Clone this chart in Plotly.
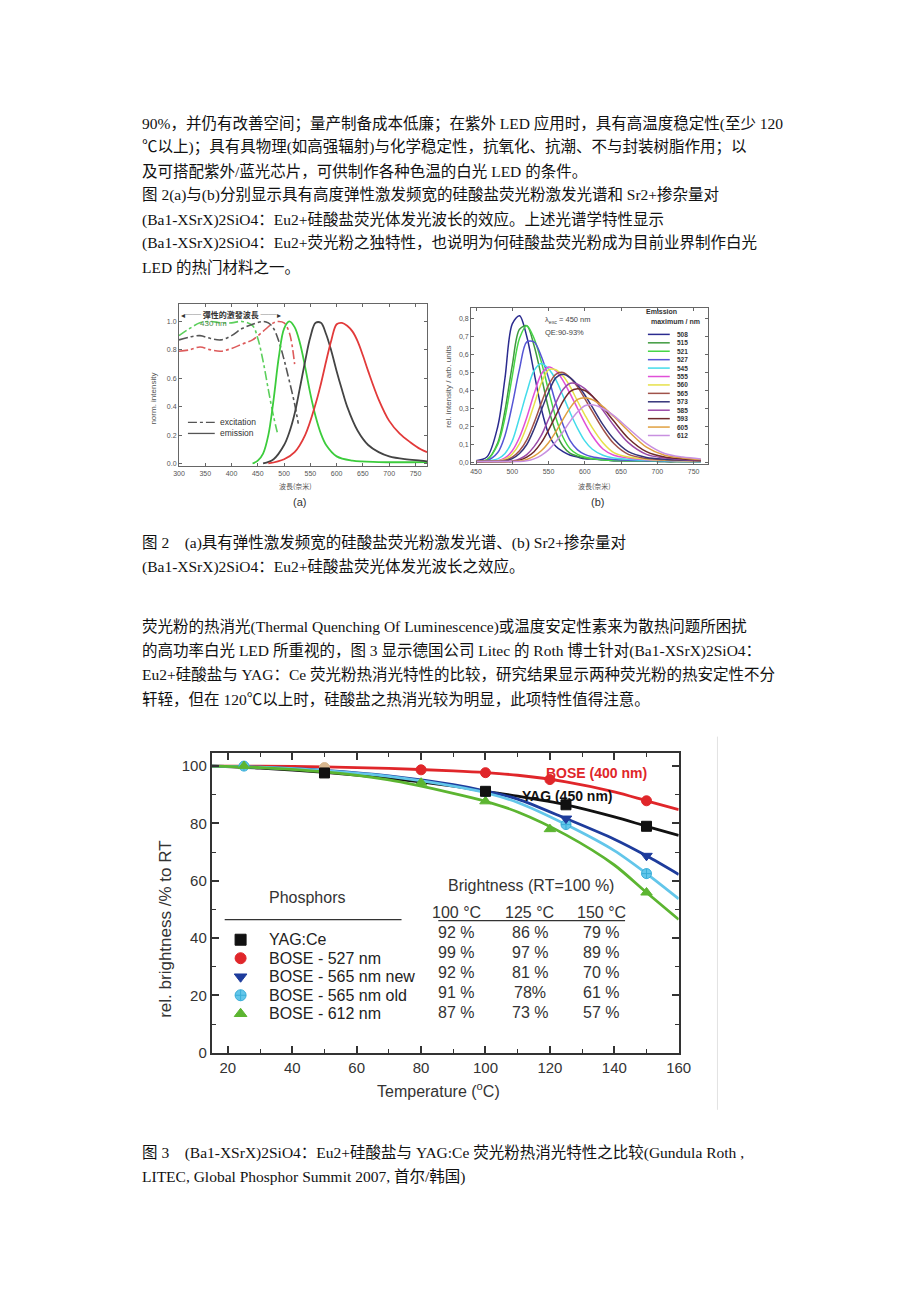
import plotly.graph_objects as go

# the page has an 8px body margin, so the figure is drawn 16px smaller;
# every position below is given in page pixels and mapped through px()/py()
OFF = 8
W_FIG, H_FIG = 904, 1286
KX, X0 = 0.0148, 140   # small stretch measured against the reference
KY, Y0 = 0.0068, 124
BODY_FONT = "Liberation Serif, Noto Sans CJK SC"
CJK_FONT = "Noto Sans CJK SC"
SANS = "Liberation Sans, Arial"

# ---------------- body text ----------------
para_top = [
    "90%，并仍有改善空间；量产制备成本低廉；在紫外 LED 应用时，具有高温度稳定性(至少 120",
    "℃以上)；具有具物理(如高强辐射)与化学稳定性，抗氧化、抗潮、不与封装树脂作用；以",
    "及可搭配紫外/蓝光芯片，可供制作各种色温的白光 LED 的条件。",
    "图 2(a)与(b)分别显示具有高度弹性激发频宽的硅酸盐荧光粉激发光谱和 Sr2+掺杂量对",
    "(Ba1-XSrX)2SiO4：Eu2+硅酸盐荧光体发光波长的效应。上述光谱学特性显示",
    "(Ba1-XSrX)2SiO4：Eu2+荧光粉之独特性，也说明为何硅酸盐荧光粉成为目前业界制作白光",
    "LED 的热门材料之一。",
]
caption_2 = [
    "图 2　(a)具有弹性激发频宽的硅酸盐荧光粉激发光谱、(b) Sr2+掺杂量对",
    "(Ba1-XSrX)2SiO4：Eu2+硅酸盐荧光体发光波长之效应。",
]
para_mid = [
    "荧光粉的热消光(Thermal Quenching Of Luminescence)或温度安定性素来为散热问题所困扰",
    "的高功率白光 LED 所重视的，图 3 显示德国公司 Litec 的 Roth 博士针对(Ba1-XSrX)2SiO4：",
    "Eu2+硅酸盐与 YAG：Ce 荧光粉热消光特性的比较，研究结果显示两种荧光粉的热安定性不分",
    "轩轾，但在 120℃以上时，硅酸盐之热消光较为明显，此项特性值得注意。",
]
caption_3 = [
    "图 3　(Ba1-XSrX)2SiO4：Eu2+硅酸盐与 YAG:Ce 荧光粉热消光特性之比较(Gundula Roth ,",
    "LITEC, Global Phosphor Summit 2007, 首尔/韩国)",
]

# ---------------- figure 2(a): excitation / emission ----------------
exc_green_nm = [300, 320, 340, 360, 380, 400, 420, 440, 450, 460, 470, 480, 487]
exc_green = [0.90, 0.95, 0.99, 1.0, 0.99, 0.99, 1.0, 0.97, 0.88, 0.72, 0.52, 0.33, 0.22]
exc_gray_nm = [300, 320, 340, 360, 380, 400, 420, 440, 460, 470, 480, 490, 500, 510, 520, 527]
exc_gray = [0.87, 0.89, 0.90, 0.88, 0.87, 0.90, 0.95, 0.98, 1.0, 0.99, 0.95, 0.86, 0.73, 0.58, 0.42, 0.28]
exc_red_nm = [300, 320, 340, 360, 380, 400, 420, 440, 460, 480, 490, 500, 510, 520]
exc_red = [0.79, 0.80, 0.82, 0.80, 0.79, 0.81, 0.84, 0.87, 0.93, 0.99, 1.0, 0.99, 0.92, 0.70]

em_green_nm = [440, 450, 460, 470, 480, 490, 500, 510, 520, 530, 540, 550, 560, 570, 580, 600, 630, 680, 772]
em_green = [0.0, 0.02, 0.07, 0.20, 0.45, 0.75, 0.95, 1.0, 0.96, 0.85, 0.68, 0.49, 0.33, 0.21, 0.13, 0.05, 0.02, 0.01, 0.01]
em_gray_nm = [460, 480, 500, 510, 520, 530, 540, 550, 560, 570, 580, 590, 600, 610, 620, 640, 660, 680, 700, 730, 760, 772]
em_gray = [0.0, 0.03, 0.13, 0.22, 0.35, 0.53, 0.72, 0.89, 0.99, 0.99, 0.91, 0.79, 0.65, 0.52, 0.40, 0.23, 0.13, 0.08, 0.05, 0.03, 0.02, 0.015]
em_red_nm = [470, 500, 520, 540, 560, 570, 580, 590, 600, 610, 620, 630, 640, 650, 660, 680, 700, 720, 740, 760, 772]
em_red = [0.0, 0.03, 0.08, 0.20, 0.42, 0.56, 0.72, 0.87, 0.98, 0.99, 0.97, 0.93, 0.86, 0.76, 0.65, 0.45, 0.30, 0.21, 0.15, 0.10, 0.08]

a_xticks = [300, 350, 400, 450, 500, 550, 600, 650, 700, 750]
a_yticks = [0.0, 0.2, 0.4, 0.6, 0.8, 1.0]
a_ytext = ["0.0", "0.2", "0.4", "0.6", "0.8", "1.0"]

# ---------------- figure 2(b): emission vs Sr content ----------------
b_nm = [450, 465, 480, 490, 500, 510, 520, 530, 540, 550, 560, 570, 580, 590, 600, 610, 625, 640, 660, 685, 710, 735, 760]
em508 = [0.01, 0.03, 0.20, 0.47, 0.77, 0.815, 0.70, 0.50, 0.30, 0.16, 0.09, 0.06, 0.04, 0.03, 0.02, 0.02, 0.015, 0.01, 0.01, 0.01, 0.005, 0.005, 0.005]
em515 = [0.01, 0.015, 0.11, 0.29, 0.54, 0.74, 0.76, 0.65, 0.48, 0.30, 0.17, 0.09, 0.05, 0.035, 0.025, 0.02, 0.015, 0.01, 0.01, 0.01, 0.005, 0.005, 0.005]
em521 = [0.005, 0.015, 0.10, 0.25, 0.48, 0.69, 0.76, 0.69, 0.56, 0.40, 0.25, 0.14, 0.075, 0.045, 0.03, 0.022, 0.015, 0.012, 0.01, 0.01, 0.008, 0.005, 0.005]
em527 = [0.005, 0.01, 0.055, 0.15, 0.32, 0.52, 0.67, 0.67, 0.59, 0.47, 0.33, 0.21, 0.12, 0.07, 0.045, 0.032, 0.022, 0.016, 0.012, 0.01, 0.008, 0.006, 0.005]
em545 = [0.005, 0.008, 0.02, 0.05, 0.12, 0.25, 0.39, 0.51, 0.55, 0.52, 0.46, 0.37, 0.275, 0.19, 0.12, 0.075, 0.04, 0.025, 0.018, 0.012, 0.01, 0.008, 0.006]
em555 = [0.005, 0.005, 0.01, 0.025, 0.065, 0.14, 0.25, 0.38, 0.49, 0.53, 0.51, 0.455, 0.38, 0.30, 0.22, 0.15, 0.075, 0.04, 0.025, 0.015, 0.012, 0.01, 0.008]
em560 = [0.005, 0.005, 0.008, 0.018, 0.047, 0.105, 0.20, 0.32, 0.44, 0.515, 0.515, 0.48, 0.42, 0.34, 0.265, 0.195, 0.11, 0.055, 0.03, 0.018, 0.013, 0.01, 0.008]
em565 = [0.005, 0.005, 0.006, 0.012, 0.03, 0.065, 0.125, 0.22, 0.33, 0.43, 0.49, 0.50, 0.47, 0.42, 0.355, 0.285, 0.185, 0.105, 0.045, 0.022, 0.015, 0.012, 0.01]
em573 = [0.005, 0.005, 0.005, 0.008, 0.021, 0.05, 0.10, 0.185, 0.29, 0.39, 0.47, 0.49, 0.47, 0.43, 0.375, 0.31, 0.21, 0.13, 0.06, 0.028, 0.018, 0.014, 0.01]
em585 = [0.005, 0.005, 0.005, 0.005, 0.008, 0.02, 0.044, 0.088, 0.15, 0.24, 0.33, 0.405, 0.44, 0.435, 0.41, 0.37, 0.29, 0.205, 0.11, 0.045, 0.025, 0.017, 0.012]
em593 = [0.005, 0.005, 0.005, 0.004, 0.006, 0.013, 0.03, 0.06, 0.11, 0.18, 0.26, 0.34, 0.395, 0.41, 0.40, 0.37, 0.305, 0.23, 0.135, 0.06, 0.03, 0.02, 0.014]
em605 = [0.005, 0.005, 0.005, 0.005, 0.005, 0.008, 0.017, 0.035, 0.065, 0.11, 0.17, 0.24, 0.305, 0.35, 0.36, 0.35, 0.31, 0.255, 0.175, 0.085, 0.04, 0.025, 0.016]
em612 = [0.005, 0.005, 0.005, 0.005, 0.005, 0.005, 0.009, 0.02, 0.04, 0.07, 0.115, 0.17, 0.23, 0.28, 0.315, 0.32, 0.30, 0.26, 0.19, 0.105, 0.05, 0.03, 0.02]
b_labels = ["508", "515", "521", "527", "545", "555", "560", "565", "573", "585", "593", "605", "612"]
b_series = [em508, em515, em521, em527, em545, em555, em560, em565, em573, em585, em593, em605, em612]
b_colors = ["#2b2b8f", "#3f9a3f", "#46d646", "#5555d5", "#44dcea", "#e050d8", "#e6e04a",
            "#a0524a", "#34347a", "#9a4aa8", "#6e2a2a", "#e0a040", "#c890e0"]
b_xticks = [450, 500, 550, 600, 650, 700, 750]
b_yticks = [0.0, 0.1, 0.2, 0.3, 0.4, 0.5, 0.6, 0.7, 0.8]
b_ytext = ["0,0", "0,1", "0,2", "0,3", "0,4", "0,5", "0,6", "0,7", "0,8"]

# ---------------- figure 3: thermal quenching ----------------
temp_grid = [15, 30, 50, 70, 90, 100, 110, 125, 140, 150, 160]
yag_curve = [100, 99.3, 97.8, 95.7, 93.0, 91.2, 89.5, 86.5, 82.3, 79.0, 75.8]
bose400_curve = [100, 100, 99.7, 99.2, 98.3, 97.7, 96.8, 94.5, 91.0, 87.9, 84.8]
new565_curve = [100, 99.6, 98.5, 96.6, 93.5, 91.3, 88.5, 81.7, 74.5, 68.7, 62.2]
old565_curve = [100, 99.6, 98.4, 96.4, 93.0, 90.7, 87.3, 79.6, 70.5, 62.5, 53.7]
bose612_curve = [100, 99.5, 98.0, 95.2, 90.5, 87.7, 84.0, 76.0, 65.5, 55.9, 46.5]

yag_t, yag_v = [50, 100, 125, 150], [97.6, 91.2, 86.5, 79.0]
bose400_t, bose400_v = [80, 100, 120, 150], [98.7, 97.7, 95.3, 87.9]
new565_t, new565_v = [125, 150], [81.7, 68.7]
old565_t, old565_v = [25, 100, 125, 150], [100, 91.0, 79.6, 62.5]
bose612_t, bose612_v = [25, 80, 100, 120, 150], [100, 94.2, 87.7, 78.0, 55.9]
tan_t, tan_v = [50], [99.5]

t_xticks = [20, 40, 60, 80, 100, 120, 140, 160]
t_yticks = [0, 20, 40, 60, 80, 100]

phosphor_names = ["YAG:Ce", "BOSE - 527 nm", "BOSE - 565 nm new", "BOSE - 565 nm old", "BOSE - 612 nm"]
tbl_heads = ["100 °C", "125 °C", "150 °C"]
tbl_100 = ["92 %", "99 %", "92 %", "91 %", "87 %"]
tbl_125 = ["86 %", "97 %", "81 %", "78%", "73 %"]
tbl_150 = ["79 %", "89 %", "70 %", "61 %", "57 %"]

C_BLACK, C_RED, C_BLUE, C_CYAN, C_GREEN = "#111111", "#e0262a", "#1e3c9c", "#63c6ea", "#5cb531"


def px(x):
    # page x -> figure pixel
    return x + KX * (x - X0) - OFF


def py(y):
    return y + KY * (y - Y0) - OFF


def dom_x(a, b):
    return [px(a) / W_FIG, px(b) / W_FIG]


def dom_y(top, bottom):
    return [1 - py(bottom) / H_FIG, 1 - py(top) / H_FIG]


# overlay axis whose units are page pixels
x4_range = [(0 + OFF + KX * X0) / (1 + KX), (W_FIG + OFF + KX * X0) / (1 + KX)]
y4_range = [(H_FIG + OFF + KY * Y0) / (1 + KY), (0 + OFF + KY * Y0) / (1 + KY)]


def txt(x, y, s, size, color="#111", family=BODY_FONT, xanchor="left", **kw):
    return dict(x=x, y=y, xref="x4", yref="y4", text=s, showarrow=False,
                xanchor=xanchor, yanchor="middle",
                font=dict(size=size, color=color, family=family), **kw)


fig = go.Figure()

# ---- (a) traces
for xs, ys, col in [(exc_green_nm, exc_green, "#5ccf5c"), (exc_gray_nm, exc_gray, "#555555"),
                    (exc_red_nm, exc_red, "#dd5a5a")]:
    fig.add_trace(go.Scatter(x=xs, y=ys, mode="lines", xaxis="x", yaxis="y", hoverinfo="skip",
                             line=dict(color=col, width=1.6, dash="dashdot", shape="spline")))
for xs, ys, col in [(em_green_nm, em_green, "#3ccc3c"), (em_gray_nm, em_gray, "#444444"),
                    (em_red_nm, em_red, "#e23a3a")]:
    fig.add_trace(go.Scatter(x=xs, y=ys, mode="lines", xaxis="x", yaxis="y", hoverinfo="skip",
                             line=dict(color=col, width=1.8, shape="spline")))

# ---- (b) traces
for ys, col in zip(b_series, b_colors):
    fig.add_trace(go.Scatter(x=b_nm, y=ys, mode="lines", xaxis="x2", yaxis="y2", hoverinfo="skip",
                             line=dict(color=col, width=1.5, shape="spline", smoothing=0.9)))

# ---- thermal traces
curves = [(yag_curve, C_BLACK), (bose400_curve, C_RED), (new565_curve, C_BLUE),
          (old565_curve, C_CYAN), (bose612_curve, C_GREEN)]
for ys, col in curves:
    fig.add_trace(go.Scatter(x=temp_grid, y=ys, mode="lines", xaxis="x3", yaxis="y3", hoverinfo="skip",
                             line=dict(color=col, width=2.8, shape="spline", smoothing=0.8)))
marks = [(tan_t, tan_v, "#d8b890", "circle"),
         (old565_t, old565_v, C_CYAN, "circle-cross"),
         (bose612_t, bose612_v, C_GREEN, "triangle-up"),
         (new565_t, new565_v, C_BLUE, "triangle-down"),
         (bose400_t, bose400_v, C_RED, "circle"),
         (yag_t, yag_v, C_BLACK, "square")]
for xs, ys, col, sym in marks:
    fig.add_trace(go.Scatter(x=xs, y=ys, mode="markers", xaxis="x3", yaxis="y3", hoverinfo="skip",
                             marker=dict(color=col, symbol=sym, size=10,
                                         line=dict(color="#3aaed8" if sym == "circle-cross" else col, width=1))))

# thermal legend keys (page pixel overlay)
leg_rows = [940, 958.5, 977, 995.5, 1014]
fig.add_trace(go.Scatter(
    x=[238] * 5, y=leg_rows, mode="markers", xaxis="x4", yaxis="y4", hoverinfo="skip",
    marker=dict(color=[C_BLACK, C_RED, C_BLUE, C_CYAN, C_GREEN],
                symbol=["square", "circle", "triangle-down", "circle-cross", "triangle-up"],
                size=11, line=dict(color=[C_BLACK, C_RED, C_BLUE, "#3aaed8", C_GREEN], width=1))))

small_ax = dict(showline=True, linecolor="#666", linewidth=1, mirror="ticks", ticks="inside",
                ticklen=3, tickcolor="#666", showgrid=False, zeroline=False,
                tickfont=dict(size=7, color="#555", family=SANS))
big_ax = dict(showline=True, linecolor="#333", linewidth=2, mirror="ticks", ticks="inside",
              ticklen=7, tickwidth=1.5, tickcolor="#333", showgrid=False, zeroline=False,
              tickfont=dict(size=15, color="#333", family=SANS),
              minor=dict(ticks="inside", ticklen=4, tickcolor="#333", tickwidth=1.2, dtick=10))

fig.update_layout(
    width=W_FIG, height=H_FIG, margin=dict(l=0, r=0, t=0, b=0),
    paper_bgcolor="white", plot_bgcolor="rgba(0,0,0,0)", showlegend=False,
    xaxis=dict(domain=dom_x(176, 426), range=[300, 772.6], anchor="y", tickvals=a_xticks, **small_ax),
    yaxis=dict(domain=dom_y(305, 467), range=[-0.021, 1.12], anchor="x", tickvals=a_yticks,
               ticktext=a_ytext, **small_ax),
    xaxis2=dict(domain=dom_x(470, 708), range=[443.2, 769.2], anchor="y2", tickvals=b_xticks, **small_ax),
    yaxis2=dict(domain=dom_y(309, 465), range=[-0.011, 0.856], anchor="x2", tickvals=b_yticks,
                ticktext=b_ytext, **small_ax),
    xaxis3=dict(domain=dom_x(209, 679), range=[15, 160], anchor="y3", tickvals=t_xticks, **big_ax),
    yaxis3=dict(domain=dom_y(753, 1053), range=[0, 104.7], anchor="x3", tickvals=t_yticks, **big_ax),
    xaxis4=dict(domain=[0, 1], range=x4_range, anchor="y4", visible=False, fixedrange=True),
    yaxis4=dict(domain=[0, 1], range=y4_range, anchor="x4", visible=False, fixedrange=True),
)

ann = []
for i, s in enumerate(para_top):
    ann.append(txt(137, 124 + 24 * i, s, 15.5))
for i, s in enumerate(caption_2):
    ann.append(txt(137, 543 + 24 * i, s, 15.5))
for i, s in enumerate(para_mid):
    ann.append(txt(137, 627 + 24 * i, s, 15.5))
for i, s in enumerate(caption_3):
    ann.append(txt(137, 1153 + 24 * i, s, 15.5))

# (a) labels
ann.append(txt(150, 399, "norm. intensity", 8, "#555", SANS, "center", textangle=-90))
ann.append(txt(293, 487, "波長(奈米)", 7, "#555", CJK_FONT, "center"))
ann.append(txt(297, 503, "(a)", 11, "#333", SANS, "center"))
ann.append(txt(228, 315, "◂── <b>彈性的激發波長</b> ──▸", 8, "#333", CJK_FONT, "center"))
ann.append(txt(211, 324, "430 nm", 8, "#4a8a4a", SANS, "center"))
ann.append(txt(215, 423, "excitation", 8.5, "#333", SANS))
ann.append(txt(215, 434, "emission", 8.5, "#333", SANS))

# (b) labels
ann.append(txt(447, 387, "rel. intensity / arb. units", 8, "#555", SANS, "center", textangle=-90))
ann.append(txt(594, 487, "波長(奈米)", 7, "#555", CJK_FONT, "center"))
ann.append(txt(597, 503, "(b)", 11, "#333", SANS, "center"))
ann.append(txt(542, 321, "λ<sub>exc</sub> = 450 nm", 7.5, "#444", SANS))
ann.append(txt(542, 333, "QE:90-93%", 7.5, "#444", SANS))
ann.append(txt(662, 312, "<b>Emission</b>", 7, "#333", SANS, "center"))
ann.append(txt(676, 322, "<b>maximum / nm</b>", 7, "#333", SANS, "center"))
for i, lab in enumerate(b_labels):
    ann.append(txt(675, 335 + 8.42 * i, "<b>" + lab + "</b>", 6.5, "#333", SANS))

# thermal labels
ann.append(txt(163, 930, "rel. brightness /% to RT", 17, "#333", SANS, "center", textangle=-90))
ann.append(txt(437, 1090, "Temperature (<sup>o</sup>C)", 16, "#333", SANS, "center"))
ann.append(txt(596, 773, "<b>BOSE (400 nm)</b>", 14, C_RED, SANS, "center"))
ann.append(txt(567, 796, "<b>YAG (450 nm)</b>", 14, C_BLACK, SANS, "center"))
ann.append(txt(265, 898, "Phosphors", 16, "#333", SANS))
for y, name in zip(leg_rows, phosphor_names):
    ann.append(txt(265, y, name, 16, "#222", SANS))
ann.append(txt(530, 886, "Brightness (RT=100 %)", 16, "#333", SANS, "center"))
for xc, head, col in zip([455, 529, 601], tbl_heads, [tbl_100, tbl_125, tbl_150]):
    ann.append(txt(xc, 913, head, 16, "#333", SANS, "center"))
    for k, v in enumerate(col):
        ann.append(txt(xc, 933 + 20 * k, v, 16, "#333", SANS, "center"))
fig.update_layout(annotations=ann)

shapes = [
    dict(type="line", xref="x4", yref="y4", x0=185, x1=212, y0=423, y1=423,
         line=dict(color="#555", width=1.3, dash="dashdot")),
    dict(type="line", xref="x4", yref="y4", x0=185, x1=212, y0=434, y1=434,
         line=dict(color="#555", width=1.3)),
    dict(type="line", xref="x4", yref="y4", x0=222, x1=400, y0=920, y1=920,
         line=dict(color="#333", width=1.3)),
    dict(type="line", xref="x4", yref="y4", x0=437, x1=625, y0=921, y1=921,
         line=dict(color="#333", width=1.3)),
    dict(type="line", xref="x4", yref="y4", x0=718, x1=718, y0=737, y1=1110,
         line=dict(color="#e2e2e2", width=1)),
]
for i, col in enumerate(b_colors):
    shapes.append(dict(type="line", xref="x4", yref="y4", x0=648, x1=670,
                       y0=335 + 8.42 * i, y1=335 + 8.42 * i, line=dict(color=col, width=1.5)))
fig.update_layout(shapes=shapes)

fig.write_html("out.html")
